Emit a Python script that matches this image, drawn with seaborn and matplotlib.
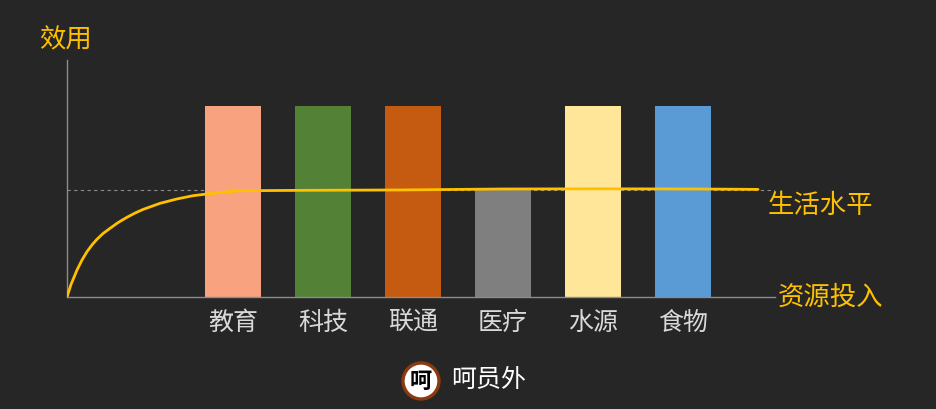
"""Resource input vs. utility: bars per domain plus a saturating living-standard curve."""
import numpy as np
import pandas as pd
import matplotlib
matplotlib.use("Agg")
import matplotlib.pyplot as plt
from matplotlib.patches import Circle
import seaborn as sns

# --- data ---
categories = ["教育", "科技", "联通", "医疗", "水源", "食物"]
utility = [100, 100, 100, 56, 100, 100]
bar_colors = ["#F9A27F", "#538135", "#C55A11", "#7F7F7F", "#FFE699", "#5B9BD5"]

living_level = 56
curve_x = [-1.844, -1.800, -1.733, -1.678, -1.622, -1.567, -1.511, -1.444, -1.367,
           -1.278, -1.178, -1.089, -1.0, -0.811, -0.622, -0.444, -0.289, -0.1,
           0.078, 0.744, 1.856, 2.967, 4.078, 5.189, 5.833]
curve_y = [0.0, 6.5, 14.1, 19.3, 23.7, 27.2, 30.2, 33.2, 35.9,
           38.9, 41.7, 43.9, 45.8, 49.0, 51.3, 53.0, 53.9, 54.9,
           55.6, 55.8, 56.0, 56.5, 56.6, 56.5, 56.3]

BG = "#262626"
YELLOW = "#FFC000"
GRID = "#8C8C8C"

sns.set_style("dark")
plt.rcParams["font.family"] = ["Noto Sans CJK SC", "DejaVu Sans"]

W, H = 937, 409
fig = plt.figure(figsize=(W / 100, H / 100), dpi=100, facecolor=BG)
ax = fig.add_axes([67 / W, 1 - 297 / H, 708 / W, 237 / H])
ax.set_facecolor(BG)

df = pd.DataFrame({"cat": categories, "val": utility})
sns.barplot(data=df, x="cat", y="val", hue="cat", palette=bar_colors,
            width=0.63, saturation=1, legend=False, ax=ax, zorder=2,
            linewidth=0, edgecolor="none")

ax.axhline(living_level, color=GRID, lw=0.8, ls=(0, (3, 3)), zorder=1)
ax.plot(curve_x, curve_y, color=YELLOW, lw=2.0, zorder=3,
        solid_capstyle="round", solid_joinstyle="round")

ax.set_xlim(-1.844, 6.022)
ax.set_ylim(0, 124)
ax.set_xlabel("")
ax.set_ylabel("")
ax.set_yticks([])
ax.tick_params(axis="x", length=0, pad=9, labelsize=18, labelcolor="#D9D9D9")
ax.grid(False)
for side in ["top", "right"]:
    ax.spines[side].set_visible(False)
for side in ["left", "bottom"]:
    ax.spines[side].set_visible(True)
    ax.spines[side].set_color(GRID)
    ax.spines[side].set_linewidth(1)

fig.text(39 / W, 1 - 40 / H, "效用", color=YELLOW, fontsize=19, va="center", ha="left")
fig.text(768 / W, 1 - 205 / H, "生活水平", color=YELLOW, fontsize=19, va="center", ha="left")
fig.text(778 / W, 1 - 297 / H, "资源投入", color=YELLOW, fontsize=19, va="center", ha="left")

# footer logo + name (circle in inch units so it stays round)
logo = Circle((4.21, (H - 381) / 100), 0.18, transform=fig.dpi_scale_trans,
              facecolor="white", edgecolor="#8B3A0F", linewidth=2.4)
fig.add_artist(logo)
fig.text(421 / W, 1 - 381 / H, "呵", color="black", fontsize=16, fontweight="bold",
         ha="center", va="center")
fig.text(451 / W, 1 - 381 / H, "呵员外", color="white", fontsize=18, ha="left", va="center")

fig.savefig("out.png", dpi=100, facecolor=BG)
